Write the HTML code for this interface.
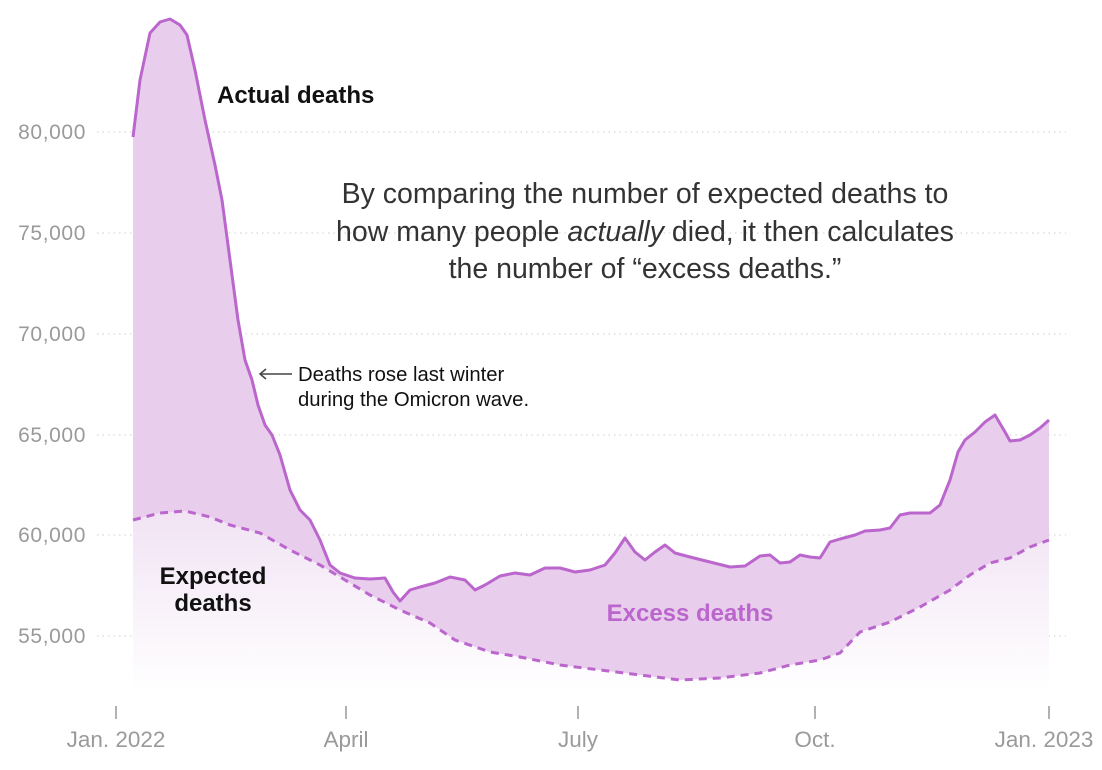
<!DOCTYPE html>
<html><head><meta charset="utf-8"><style>
html,body{margin:0;padding:0;background:#fff;}
svg{display:block;font-family:"Liberation Sans",sans-serif;}
</style></head><body>
<svg width="1102" height="770" viewBox="0 0 1102 770">
<defs>
<linearGradient id="g" x1="0" y1="510" x2="0" y2="692" gradientUnits="userSpaceOnUse">
<stop offset="0" stop-color="#f1e3f4"/><stop offset="1" stop-color="#ffffff"/>
</linearGradient>
</defs>
<g stroke="#d8d8d8" stroke-width="1.2" stroke-dasharray="1.5,4">
<line x1="97" x2="1066" y1="132" y2="132"/>
<line x1="97" x2="1066" y1="233" y2="233"/>
<line x1="97" x2="1066" y1="334" y2="334"/>
<line x1="97" x2="1066" y1="435" y2="435"/>
<line x1="97" x2="1066" y1="535" y2="535"/>
<line x1="97" x2="1066" y1="636" y2="636"/>
</g>
<g fill="#9a9a9a" font-size="21" letter-spacing="0.6" text-anchor="end">
<text x="86" y="139">80,000</text>
<text x="86" y="240">75,000</text>
<text x="86" y="341">70,000</text>
<text x="86" y="442">65,000</text>
<text x="86" y="542">60,000</text>
<text x="86" y="643">55,000</text>
</g>
<path fill="url(#g)" d="M133,520 L160,513 L185,511 L210,517 L230,525 L260,533 L290,550 L320,565 L345,580 L370,595 L400,610 L430,623 L455,640 L490,652 L520,657 L560,665 L600,670 L640,675 L680,680 L720,678 L760,673 L790,665 L820,660 L840,653 L860,632 L890,622 L920,607 L950,590 L970,575 L990,563 L1010,558 L1030,547 L1049,540 L1049,692 L133,692 Z"/>
<path fill="#e8cdec" d="M133,137 L140,80 L150,33 L160,22 L170,19 L180,25 L187,35 L195,70 L205,120 L215,165 L222,200 L230,260 L238,320 L245,360 L252,380 L258,405 L265,425 L272,435 L280,455 L290,490 L300,510 L310,520 L320,540 L330,565 L340,573 L355,578 L370,579 L385,578 L393,592 L400,601 L410,590 L420,587 L435,583 L450,577 L465,580 L475,590 L485,585 L500,576 L515,573 L530,575 L545,568 L560,568 L575,572 L590,570 L605,565 L615,553 L625,538 L635,552 L645,560 L655,552 L665,545 L675,553 L690,557 L710,562 L730,567 L745,566 L760,556 L770,555 L780,563 L790,562 L800,555 L810,557 L820,558 L830,542 L840,539 L855,535 L865,531 L880,530 L890,528 L900,515 L910,513 L920,513 L930,513 L940,505 L950,480 L958,452 L965,440 L975,432 L985,422 L995,415 L1005,432 L1010,441 L1020,440 L1030,435 L1040,428 L1049,420 L1049,540 L1030,547 L1010,558 L990,563 L970,575 L950,590 L920,607 L890,622 L860,632 L840,653 L820,660 L790,665 L760,673 L720,678 L680,680 L640,675 L600,670 L560,665 L520,657 L490,652 L455,640 L430,623 L400,610 L370,595 L345,580 L320,565 L290,550 L260,533 L230,525 L210,517 L185,511 L160,513 L133,520 Z"/>
<path fill="none" stroke="#bb66cc" stroke-width="3" stroke-dasharray="8,6" d="M133,520 L160,513 L185,511 L210,517 L230,525 L260,533 L290,550 L320,565 L345,580 L370,595 L400,610 L430,623 L455,640 L490,652 L520,657 L560,665 L600,670 L640,675 L680,680 L720,678 L760,673 L790,665 L820,660 L840,653 L860,632 L890,622 L920,607 L950,590 L970,575 L990,563 L1010,558 L1030,547 L1049,540"/>
<path fill="none" stroke="#bb66cc" stroke-width="3" stroke-linejoin="round" d="M133,137 L140,80 L150,33 L160,22 L170,19 L180,25 L187,35 L195,70 L205,120 L215,165 L222,200 L230,260 L238,320 L245,360 L252,380 L258,405 L265,425 L272,435 L280,455 L290,490 L300,510 L310,520 L320,540 L330,565 L340,573 L355,578 L370,579 L385,578 L393,592 L400,601 L410,590 L420,587 L435,583 L450,577 L465,580 L475,590 L485,585 L500,576 L515,573 L530,575 L545,568 L560,568 L575,572 L590,570 L605,565 L615,553 L625,538 L635,552 L645,560 L655,552 L665,545 L675,553 L690,557 L710,562 L730,567 L745,566 L760,556 L770,555 L780,563 L790,562 L800,555 L810,557 L820,558 L830,542 L840,539 L855,535 L865,531 L880,530 L890,528 L900,515 L910,513 L920,513 L930,513 L940,505 L950,480 L958,452 L965,440 L975,432 L985,422 L995,415 L1005,432 L1010,441 L1020,440 L1030,435 L1040,428 L1049,420"/>
<g stroke="#999" stroke-width="1.5">
<line x1="116" x2="116" y1="706" y2="719"/>
<line x1="346" x2="346" y1="706" y2="719"/>
<line x1="578" x2="578" y1="706" y2="719"/>
<line x1="815" x2="815" y1="706" y2="719"/>
<line x1="1049" x2="1049" y1="706" y2="719"/>
</g>
<g fill="#9a9a9a" font-size="22.5" text-anchor="middle">
<text x="116" y="747">Jan. 2022</text>
<text x="346" y="747">April</text>
<text x="578" y="747">July</text>
<text x="815" y="747">Oct.</text>
<text x="1044" y="747">Jan. 2023</text>
</g>
<text x="217" y="103" font-size="24" font-weight="bold" fill="#111">Actual deaths</text>
<text x="213" y="584" font-size="24" font-weight="bold" fill="#111" text-anchor="middle">Expected</text>
<text x="213" y="611" font-size="24" font-weight="bold" fill="#111" text-anchor="middle">deaths</text>
<text x="690" y="621" font-size="24" font-weight="bold" fill="#bb66cc" text-anchor="middle">Excess deaths</text>
<g font-size="28.5" fill="#333" text-anchor="middle">
<text x="645" y="203">By comparing the number of expected deaths to</text>
<text x="645" y="241">how many people <tspan font-style="italic">actually</tspan> died, it then calculates</text>
<text x="645" y="278">the number of “excess deaths.”</text>
</g>
<g stroke="#444" stroke-width="1.5" fill="none">
<line x1="260" y1="374" x2="292" y2="374"/>
<polyline points="266,369 260,374 266,379"/>
</g>
<text x="298" y="381" font-size="20.3" fill="#111">Deaths rose last winter</text>
<text x="298" y="406" font-size="20.3" fill="#111">during the Omicron wave.</text>
</svg>
</body></html>
